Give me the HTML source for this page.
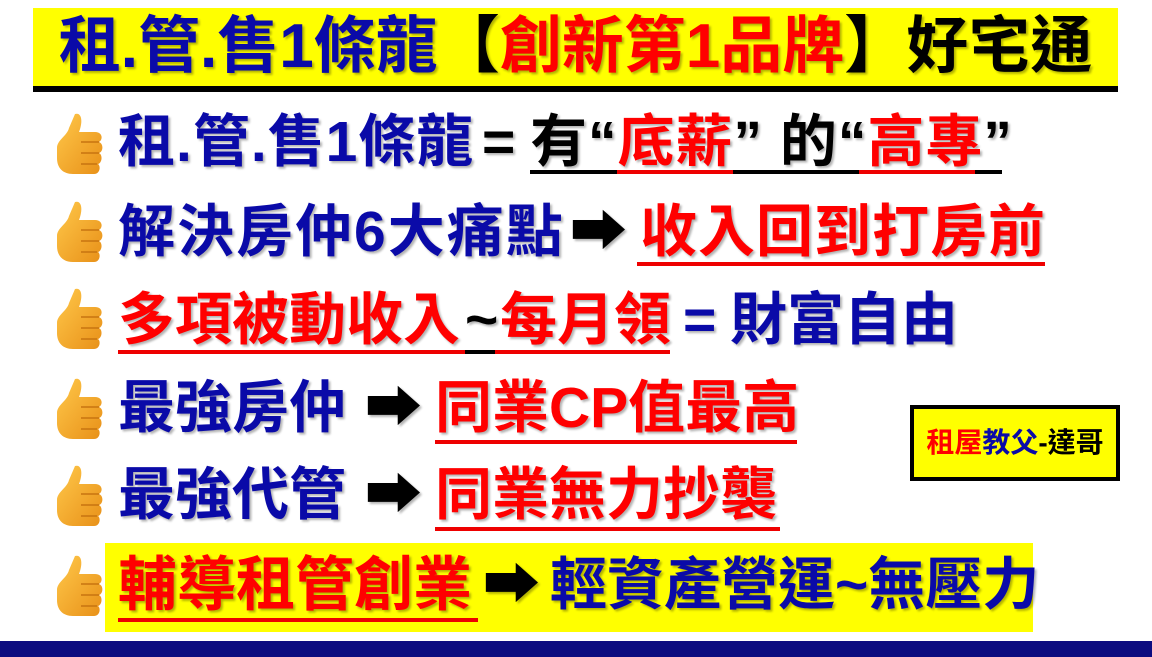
<!DOCTYPE html>
<html><head><meta charset="utf-8"><style>
body{margin:0;width:1152px;height:657px;background:#fff;position:relative;overflow:hidden;font-family:"Liberation Sans","Noto Sans CJK TC",sans-serif;font-weight:bold}
.a{position:absolute;white-space:nowrap}
.t{position:absolute;white-space:nowrap;font-size:57px;line-height:60px;text-shadow:2px 2px 2px rgba(0,0,0,.3)}
.b{color:#0a0aa8}.r{color:#f00}.k{color:#000}
.u{position:absolute;height:4px}
.th{position:absolute;width:50px;height:68px}
</style></head><body>
<div class="a" style="left:33px;top:8px;width:1085px;height:78px;background:#ffff00"></div>
<div class="a" style="left:33px;top:86px;width:1085px;height:6px;background:#000"></div>
<div class="a" style="left:33px;top:8px;width:1085px;height:78px;text-align:center;font-size:62px;line-height:78px;text-shadow:2px 2px 2px rgba(0,0,0,.3)"><span class="b">租.管.售1條龍</span><span class="k">【</span><span class="r">創新第1品牌</span><span class="k">】好宅通</span></div>

<svg width="0" height="0" style="position:absolute"><defs>
<linearGradient id="g" x1="0" y1="0" x2="1" y2="1"><stop offset="0" stop-color="#ffc84a"/><stop offset="1" stop-color="#e89018"/></linearGradient>
<symbol id="thumb" viewBox="0 0 50 68"><path d="M20 4 C27 2 28 12 24 22 L40 22 C48 22 48 30 44 32 C49 34 48 42 44 43 C48 45 47 53 43 54 C46 56 45 64 39 64 L18 64 C8 64 2 58 2 48 L2 38 C2 30 12 26 14 18 Z" fill="url(#g)"/><path d="M26 32 H44 M26 43 H44 M26 54 H42" stroke="#c77410" stroke-width="1.5"/></symbol>
</defs></svg>

<svg class="th" style="left:55px;top:110px"><use href="#thumb"/></svg>
<svg class="th" style="left:55px;top:198px"><use href="#thumb"/></svg>
<svg class="th" style="left:55px;top:285px"><use href="#thumb"/></svg>
<svg class="th" style="left:55px;top:375px"><use href="#thumb"/></svg>
<svg class="th" style="left:55px;top:462px"><use href="#thumb"/></svg>
<svg class="th" style="left:55px;top:552px"><use href="#thumb"/></svg>

<!-- row1 -->
<div class="t b" style="left:118px;top:112px;letter-spacing:1px">租.管.售1條龍</div>
<div class="t k" style="left:482px;top:112px">=</div>
<div class="t" style="left:530px;top:112px;letter-spacing:1px"><span class="k">有“</span><span class="r">底薪</span><span class="k">” 的“</span><span class="r">高專</span><span class="k">”</span></div>
<div class="u" style="left:530px;top:170px;width:472px;background:#000"></div>
<div class="u" style="left:617px;top:170px;width:116px;background:#e00"></div>
<div class="u" style="left:859px;top:170px;width:116px;background:#e00"></div>

<!-- row2 -->
<div class="t b" style="left:118px;top:202px;letter-spacing:2px">解決房仲6大痛點</div>
<div class="t k" style="left:570px;top:202px">➡</div>
<div class="t r" style="left:640px;top:202px;letter-spacing:1px">收入回到打房前</div>
<div class="u" style="left:637px;top:262px;width:408px;background:#e00"></div>

<!-- row3 -->
<div class="t r" style="left:118px;top:290px">多項被動收入</div>
<div class="t k" style="left:465px;top:290px">~</div>
<div class="t r" style="left:500px;top:290px">每月領</div>
<div class="t b" style="left:683px;top:290px">=</div>
<div class="t b" style="left:730px;top:290px">財富自由</div>
<div class="u" style="left:118px;top:350px;width:552px;background:#e00"></div>
<div class="u" style="left:465px;top:350px;width:30px;background:#000"></div>

<!-- row4 -->
<div class="t b" style="left:118px;top:378px">最強房仲</div>
<div class="t k" style="left:365px;top:378px">➡</div>
<div class="t r" style="left:435px;top:378px">同業CP值最高</div>
<div class="u" style="left:435px;top:440px;width:362px;background:#e00"></div>

<!-- row5 -->
<div class="t b" style="left:118px;top:465px">最強代管</div>
<div class="t k" style="left:365px;top:465px">➡</div>
<div class="t r" style="left:435px;top:465px">同業無力抄襲</div>
<div class="u" style="left:435px;top:527px;width:345px;background:#e00"></div>

<!-- row6 -->
<div class="a" style="left:105px;top:543px;width:928px;height:89px;background:#ffff00"></div>
<div class="t r" style="left:118px;top:555px;font-size:59px">輔導租管創業</div>
<div class="t k" style="left:483px;top:555px">➡</div>
<div class="t b" style="left:550px;top:555px">輕資產營運~無壓力</div>
<div class="u" style="left:118px;top:618px;width:360px;background:#e00"></div>

<div class="a" style="left:910px;top:405px;width:202px;height:68px;background:#ffff00;border:4px solid #000;text-align:center;font-size:28px;line-height:68px"><span class="r">租屋</span><span class="b">教父</span><span class="k">-達哥</span></div>

<div class="a" style="left:0;top:641px;width:1152px;height:16px;background:#0c0c80"></div>
</body></html>
